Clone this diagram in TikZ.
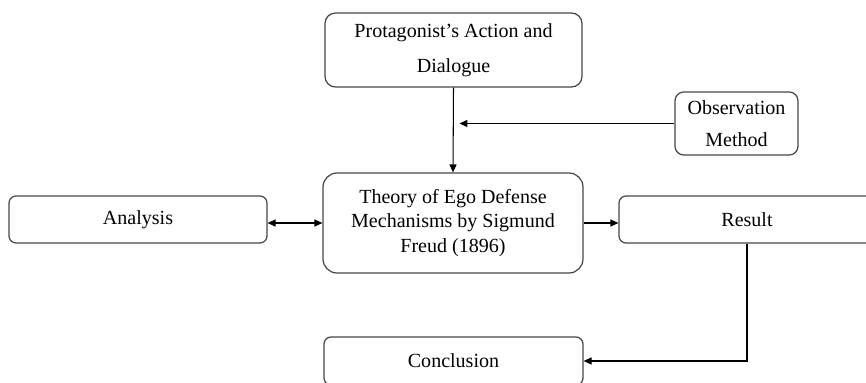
\documentclass[tikz,border=0pt]{standalone}
\usepackage{fontspec}
\setmainfont{Liberation Serif}
\usetikzlibrary{arrows.meta}
\definecolor{linegray}{RGB}{70,70,70}

\tikzset{
	box/.style={draw=linegray, line width=0.7pt, align=center, inner sep=0pt,
		font=\fontsize{11.4}{14}\selectfont},
	arr/.style={draw=linegray, line width=0.6pt, -{Triangle[length=4.5pt,width=4pt]}, black},
}

\begin{document}
\begin{tikzpicture}
			%%%%% START %%%%%
			\useasboundingbox (0, 0) rectangle (17.32, 7.64);
			
			\node[box, rounded corners=6pt, minimum width=5.14cm, minimum height=1.48cm,
				font=\fontsize{11.4}{20}\selectfont] (top) at (9.07, 6.64)
				{Protagonist’s Action and\\Dialogue};
			
			\node[box, rounded corners=5pt, minimum width=2.46cm, minimum height=1.26cm,
				font=\fontsize{11.4}{18.5}\selectfont] (obs) at (14.73, 5.17)
				{Observation\\Method};
			
			\node[box, rounded corners=8pt, minimum width=5.2cm, minimum height=2cm] (cen) at (9.06, 3.18)
				{Theory of Ego Defense\\Mechanisms by Sigmund\\Freud (1896)};
			
			\node[box, rounded corners=4pt, minimum width=5.16cm, minimum height=0.94cm] (ana) at (2.76, 3.25) {Analysis};
			\node[box, rounded corners=4pt, minimum width=5.12cm, minimum height=0.94cm] (res) at (14.94, 3.25) {Result};
			\node[box, rounded corners=4pt, minimum width=5.18cm, minimum height=0.96cm] (conc) at (9.07, 0.42) {Conclusion};
			
			% connectors
			\draw[arr] (top.south) -- (cen.north);
			\draw[arr] (obs.west) -- ([xshift=3.4pt]obs.west -| top.south);
			\draw[arr, {Triangle[length=4.5pt,width=4pt]}-{Triangle[length=4.5pt,width=4pt]}] (cen.west -| ana.east) -- (cen.west);
			\draw[arr] (cen.east) -- (cen.east -| res.west);
			\draw[arr] (res.south) |- (conc.east);
			%%%%% END %%%%%
		\end{tikzpicture}
\end{document}
